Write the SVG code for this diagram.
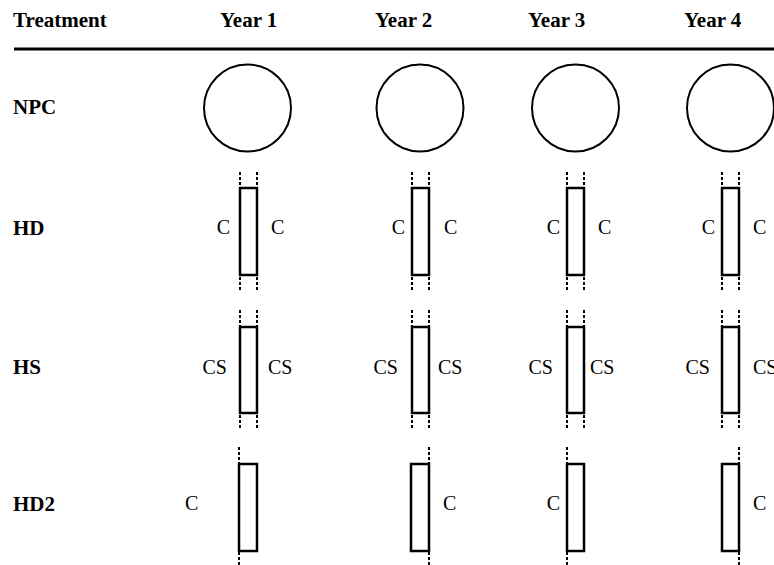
<svg xmlns="http://www.w3.org/2000/svg" width="774" height="565" viewBox="0 0 774 565" font-family="'Liberation Serif','Times New Roman',serif">
<style>
text{font-family:"Liberation Serif","Times New Roman",serif;fill:#000}
.h{font-size:21px;font-weight:bold}
.l{font-size:20px}
.c{fill:#fff;stroke:#000;stroke-width:2}
.r{fill:#fff;stroke:#000;stroke-width:2.5}
.d{stroke:#000;stroke-width:2;stroke-dasharray:3 2;fill:none}
</style>
<rect width="774" height="565" fill="#fff"/>
<g id="header">
<text class="h" x="13" y="27">Treatment</text>
<text class="h" x="220" y="27">Year 1</text>
<text class="h" x="375" y="27">Year 2</text>
<text class="h" x="528" y="27">Year 3</text>
<text class="h" x="684" y="27">Year 4</text>
<line x1="14" y1="49" x2="774" y2="49" stroke="#000" stroke-width="3"/>
</g>
<g id="row-labels">
<text class="h" x="13" y="114">NPC</text>
<text class="h" x="13" y="235">HD</text>
<text class="h" x="13" y="374">HS</text>
<text class="h" x="13" y="511">HD2</text>
</g>
<g id="npc">
<circle class="c" cx="247.5" cy="108" r="43.5"/>
<circle class="c" cx="420" cy="108" r="43.5"/>
<circle class="c" cx="575.5" cy="108" r="43.5"/>
<circle class="c" cx="730.5" cy="108" r="43.5"/>
</g>
<g id="connectors">
<path class="d" d="M240 172V290M257 172V290M412 172V290M429 172V290M567 172V290M584 172V290M722 172V290M739 172V290"/>
<path class="d" d="M240 310V428M257 310V428M412 310V428M429 310V428M567 310V428M584 310V428M722 310V428M739 310V428"/>
<path class="d" d="M239 447V565M429 447V565M567 447V565M739 447V565"/>
</g>
<g id="hd">
<rect class="r" x="240" y="188" width="17" height="87"/>
<rect class="r" x="412" y="188" width="17" height="87"/>
<rect class="r" x="567" y="188" width="17" height="87"/>
<rect class="r" x="722" y="188" width="17" height="87"/>
<text class="l" x="230" y="234" text-anchor="end">C</text>
<text class="l" x="271" y="234">C</text>
<text class="l" x="405" y="234" text-anchor="end">C</text>
<text class="l" x="444" y="234">C</text>
<text class="l" x="560" y="234" text-anchor="end">C</text>
<text class="l" x="598" y="234">C</text>
<text class="l" x="715" y="234" text-anchor="end">C</text>
<text class="l" x="753" y="234">C</text>
</g>
<g id="hs">
<rect class="r" x="240" y="327" width="17" height="86"/>
<rect class="r" x="412" y="327" width="17" height="86"/>
<rect class="r" x="567" y="327" width="17" height="86"/>
<rect class="r" x="722" y="327" width="17" height="86"/>
<text class="l" x="227" y="374" text-anchor="end">CS</text>
<text class="l" x="268" y="374">CS</text>
<text class="l" x="398" y="374" text-anchor="end">CS</text>
<text class="l" x="438" y="374">CS</text>
<text class="l" x="553" y="374" text-anchor="end">CS</text>
<text class="l" x="590" y="374">CS</text>
<text class="l" x="710" y="374" text-anchor="end">CS</text>
<text class="l" x="753" y="374">CS</text>
</g>
<g id="hd2">
<rect class="r" x="239" y="464" width="18" height="87"/>
<rect class="r" x="411" y="464" width="18" height="87"/>
<rect class="r" x="567" y="464" width="17" height="87"/>
<rect class="r" x="722" y="464" width="17" height="87"/>
<text class="l" x="185" y="510">C</text>
<text class="l" x="443" y="510">C</text>
<text class="l" x="560" y="510" text-anchor="end">C</text>
<text class="l" x="753" y="510">C</text>
</g>
</svg>
